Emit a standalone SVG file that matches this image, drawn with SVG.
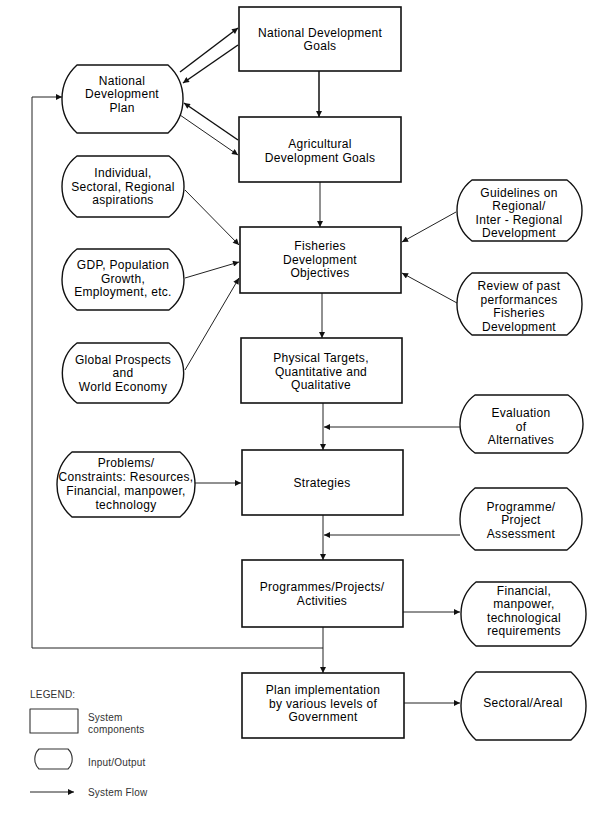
<svg xmlns="http://www.w3.org/2000/svg" width="600" height="813" viewBox="0 0 600 813">
<defs>
<marker id="ah" viewBox="0 0 10 10" refX="10" refY="5" markerWidth="8" markerHeight="6" markerUnits="userSpaceOnUse" orient="auto">
<path d="M0,0 L10,5 L0,10 z" fill="#111"/>
</marker>
</defs>
<style>
.box{fill:#fff;stroke:#111;stroke-width:1.6}
.io{fill:#fff;stroke:#111;stroke-width:1.4;stroke-linejoin:round}
.lg{fill:#fff;stroke:#333;stroke-width:1.1;stroke-linejoin:round}
.c{fill:none;stroke:#222;stroke-width:1}
.cb{fill:none;stroke:#111;stroke-width:1.5}
.a{marker-end:url(#ah)}
text{font-family:"Liberation Sans",Arial,sans-serif;font-size:12px;letter-spacing:0.3px;fill:#000;text-anchor:middle}
.leg{font-size:10px;letter-spacing:0.2px;fill:#333;text-anchor:start}
</style>
<rect width="600" height="813" fill="#fff"/>

<g id="connectors">
<line class="cb a" x1="180" y1="72" x2="238" y2="28"/>
<line class="cb a" x1="238" y1="45" x2="183" y2="83"/>
<line class="cb a" x1="238" y1="140" x2="184" y2="103"/>
<line class="c a" x1="180" y1="115" x2="238" y2="155"/>
<line class="cb a" x1="319" y1="71" x2="319" y2="117"/>
<line class="c a" x1="320" y1="182" x2="320" y2="227"/>
<line class="c a" x1="185" y1="190" x2="239" y2="245"/>
<line class="c a" x1="185" y1="278" x2="239" y2="262"/>
<line class="c a" x1="185" y1="370" x2="239" y2="278"/>
<line class="c a" x1="456" y1="212" x2="402" y2="242"/>
<line class="c a" x1="457" y1="303" x2="402" y2="273"/>
<line class="c a" x1="322" y1="293" x2="322" y2="338"/>
<line class="c a" x1="323" y1="403" x2="323" y2="450"/>
<line class="c a" x1="460" y1="427" x2="324" y2="427"/>
<line class="c a" x1="195" y1="483" x2="241" y2="483"/>
<line class="c a" x1="323" y1="515" x2="323" y2="560"/>
<line class="c a" x1="460" y1="535" x2="324" y2="535"/>
<line class="c a" x1="403" y1="612" x2="460" y2="612"/>
<line class="c a" x1="323" y1="627" x2="323" y2="673"/>
<polyline class="c a" points="323,648 32,648 32,97 62,97"/>
<line class="c a" x1="404" y1="703" x2="460" y2="703"/>
</g>

<g id="ndg"><rect class="box" x="239" y="7" width="162" height="64"/>
<text x="320" y="36.5">National Development</text><text x="320" y="50">Goals</text></g>

<g id="ndp"><path class="io" d="M77,65 H168 A46,46 0 0 1 168,133 H77 A46,46 0 0 1 77,65 Z"/>
<text x="122" y="84.5">National</text><text x="122" y="98">Development</text><text x="122" y="111.5">Plan</text></g>

<g id="agri"><rect class="box" x="239" y="117" width="162" height="65"/>
<text x="320" y="147.5">Agricultural</text><text x="320" y="161.5">Development Goals</text></g>

<g id="individual"><path class="io" d="M77,156 H169 A38.5,38.5 0 0 1 169,217 H77 A38.5,38.5 0 0 1 77,156 Z"/>
<text x="123" y="177">Individual,</text><text x="123" y="190.5">Sectoral, Regional</text><text x="123" y="204">aspirations</text></g>

<g id="gdp"><path class="io" d="M77,249 H169 A38.5,38.5 0 0 1 169,310 H77 A38.5,38.5 0 0 1 77,249 Z"/>
<text x="123" y="269">GDP, Population</text><text x="123" y="282.5">Growth,</text><text x="123" y="296">Employment, etc.</text></g>

<g id="global"><path class="io" d="M77,343 H169 A38,38 0 0 1 169,403 H77 A38,38 0 0 1 77,343 Z"/>
<text x="123" y="363.5">Global Prospects</text><text x="123" y="377">and</text><text x="123" y="390.5">World Economy</text></g>

<g id="fisheries"><rect class="box" x="240" y="227" width="161" height="66"/>
<text x="320" y="250">Fisheries</text><text x="320" y="263.5">Development</text><text x="320" y="277">Objectives</text></g>

<g id="guidelines"><path class="io" d="M472,180 H567 A38.5,38.5 0 0 1 567,241 H472 A38.5,38.5 0 0 1 472,180 Z"/>
<text x="519" y="196.5">Guidelines on</text><text x="519" y="210">Regional/</text><text x="519" y="223.5">Inter - Regional</text><text x="519" y="237">Development</text></g>

<g id="review"><path class="io" d="M472,273 H567 A39.5,39.5 0 0 1 567,335 H472 A39.5,39.5 0 0 1 472,273 Z"/>
<text x="519" y="290">Review of past</text><text x="519" y="303.5">performances</text><text x="519" y="317">Fisheries</text><text x="519" y="330.5">Development</text></g>

<g id="physical"><rect class="box" x="241" y="338" width="161" height="65"/>
<text x="321" y="362">Physical Targets,</text><text x="321" y="375.5">Quantitative and</text><text x="321" y="389">Qualitative</text></g>

<g id="evaluation"><path class="io" d="M475,395 H568 A35.5,35.5 0 0 1 568,453 H475 A35.5,35.5 0 0 1 475,395 Z"/>
<text x="521" y="417">Evaluation</text><text x="521" y="430.5">of</text><text x="521" y="444">Alternatives</text></g>

<g id="problems"><path class="io" d="M72,452 H180 A42.7,42.7 0 0 1 180,517 H72 A42.7,42.7 0 0 1 72,452 Z"/>
<text x="126" y="467">Problems/</text><text x="126" y="481">Constraints: Resources,</text><text x="126" y="495">Financial, manpower,</text><text x="126" y="509">technology</text></g>

<g id="strategies"><rect class="box" x="242" y="450" width="161" height="65"/>
<text x="322" y="487">Strategies</text></g>

<g id="assessment"><path class="io" d="M475,488 H567 A39.5,39.5 0 0 1 567,550 H475 A39.5,39.5 0 0 1 475,488 Z"/>
<text x="521" y="510.5">Programme/</text><text x="521" y="524">Project</text><text x="521" y="537.5">Assessment</text></g>

<g id="programmes"><rect class="box" x="242" y="560" width="161" height="67"/>
<text x="322" y="591">Programmes/Projects/</text><text x="322" y="604.5">Activities</text></g>

<g id="financial"><path class="io" d="M476,582 H571 A41.6,41.6 0 0 1 571,646 H476 A41.6,41.6 0 0 1 476,582 Z"/>
<text x="524" y="594.5">Financial,</text><text x="524" y="608">manpower,</text><text x="524" y="621.5">technological</text><text x="524" y="635">requirements</text></g>

<g id="plan"><rect class="box" x="242" y="673" width="162" height="65"/>
<text x="323" y="694">Plan implementation</text><text x="323" y="707.5">by various levels of</text><text x="323" y="721">Government</text></g>

<g id="sectoral"><path class="io" d="M476,672 H571 A46,46 0 0 1 571,740 H476 A46,46 0 0 1 476,672 Z"/>
<text x="523" y="707">Sectoral/Areal</text></g>

<g id="legend">
<text class="leg" x="30" y="698">LEGEND:</text>
<rect class="lg" x="30" y="709" width="48" height="24"/>
<text class="leg" x="88" y="721">System</text>
<text class="leg" x="88" y="733">components</text>
<path class="lg" d="M39,749 H68 A14,14 0 0 1 68,769 H39 A14,14 0 0 1 39,749 Z"/>
<text class="leg" x="88" y="766">Input/Output</text>
<line class="c a" x1="30" y1="792" x2="74" y2="792"/>
<text class="leg" x="88" y="796">System Flow</text>
</g>
</svg>
